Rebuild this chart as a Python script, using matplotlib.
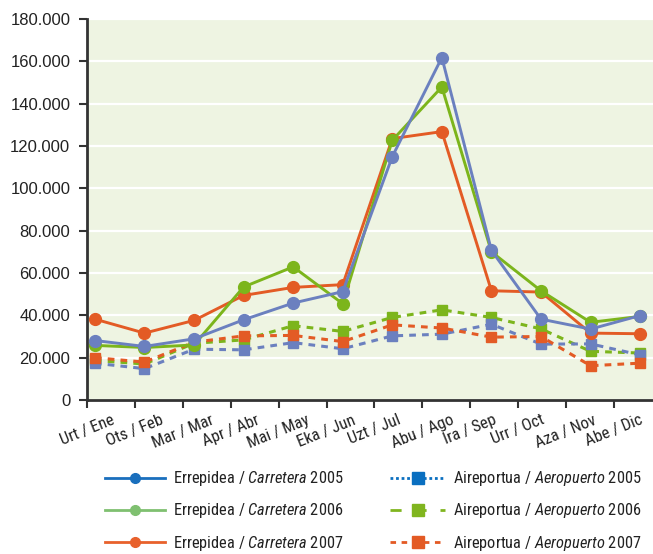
import matplotlib
matplotlib.use("Agg")
import matplotlib.pyplot as plt
from matplotlib.lines import Line2D
from matplotlib.ticker import FuncFormatter
from matplotlib import font_manager
import numpy as np

months = ["Urt / Ene", "Ots / Feb", "Mar / Mar", "Apr / Abr", "Mai / May", "Eka / Jun",
          "Uzt / Jul", "Abu / Ago", "Ira / Sep", "Urr / Oct", "Aza / Nov", "Abe / Dic"]

carretera_2005 = [28100, 25300, 28900, 37900, 45800, 51200, 115000, 161800, 70700, 38200, 33500, 39900]
carretera_2006 = [25800, 24800, 26000, 53400, 62900, 45500, 122700, 147900, 70000, 51600, 36700, 39500]
carretera_2007 = [38200, 31600, 37600, 49400, 53200, 54500, 123500, 126800, 51600, 51000, 31600, 31300]
aeropuerto_2005 = [17400, 14800, 24000, 23700, 27100, 24200, 30300, 31100, 35800, 26400, 26500, 21300]
aeropuerto_2006 = [18700, 17000, 26800, 28400, 35100, 32400, 39000, 42600, 39000, 33600, 23000, 22200]
aeropuerto_2007 = [20000, 17900, 27300, 30300, 30500, 27600, 35500, 34000, 29700, 30000, 16200, 17400]

yticks = [0, 20000, 40000, 60000, 80000, 100000, 120000, 140000, 160000, 180000]

installed = {f.name for f in font_manager.fontManager.ttflist}
cands = ["Liberation Sans Narrow", "Roboto Condensed", "Open Sans Condensed", "Noto Sans Condensed", "Roboto"]
narrow = next((c for c in cands if c in installed), "DejaVu Sans")
NARROW = [narrow, "DejaVu Sans"]
plt.rcParams["mathtext.fontset"] = "custom"
plt.rcParams["mathtext.rm"] = narrow
plt.rcParams["mathtext.it"] = narrow + ":italic"

blue = "#6b80bf"
green = "#7cb51c"
orange = "#e35b25"

fig = plt.figure(figsize=(6.53, 5.54), dpi=100)
ax = fig.add_axes([87/653, 1-400/554, 1-87/653, (400-19)/554])
ax.set_facecolor("#eef4e2")

x = np.arange(len(months))

ax.plot(x, aeropuerto_2006, color=green, lw=2.2, dashes=(2.2, 2.0), marker="s", ms=7, zorder=3)
ax.plot(x, aeropuerto_2005, color=blue, lw=2.2, dashes=(2.2, 2.0), marker="s", ms=7, zorder=3)
ax.plot(x, aeropuerto_2007, color=orange, lw=2.2, dashes=(2.2, 2.0), marker="s", ms=7, zorder=3)
ax.plot(x, carretera_2007, color=orange, lw=2.1, marker="o", ms=8.5, zorder=4)
ax.plot(x, carretera_2006, color=green, lw=2.1, marker="o", ms=8.5, zorder=4)
ax.plot(x, carretera_2005, color=blue, lw=2.1, marker="o", ms=8.5, zorder=4)

ax.set_ylim(0, 180000)
ax.set_xlim(-0.16, 11.26)
ax.set_yticks(yticks)
ax.yaxis.set_major_formatter(FuncFormatter(lambda v, p: f"{int(v):,}".replace(",", ".")))
ax.grid(axis="y", color="white", lw=1.6)
ax.set_axisbelow(True)

tick_pos = [-0.16 + 0.9667 * k for k in range(len(months))]
ax.set_xticks(tick_pos)
ax.set_xticklabels(months, rotation=22, ha="center", family=NARROW, fontsize=12, color="#222222")
ax.tick_params(axis="x", length=6, width=1.5, color="#333333", pad=3)
ax.tick_params(axis="y", length=6, width=1.5, color="#333333", pad=6)
for lab in ax.get_yticklabels():
    lab.set_family(["Liberation Sans", "DejaVu Sans"])
    lab.set_fontsize(12)
    lab.set_color("#222222")

for s in ["top", "right"]:
    ax.spines[s].set_visible(False)
for s in ["left", "bottom"]:
    ax.spines[s].set_color("#333333")
    ax.spines[s].set_linewidth(2)

h1 = [
    Line2D([], [], color="#1a6fbd", lw=2, marker="o", ms=7),
    Line2D([], [], color="#7fc070", lw=2, marker="o", ms=7),
    Line2D([], [], color="#e8612c", lw=2, marker="o", ms=7),
]
l1 = [r"Errepidea / $\mathit{Carretera}$ 2005",
      r"Errepidea / $\mathit{Carretera}$ 2006",
      r"Errepidea / $\mathit{Carretera}$ 2007"]
h2 = [
    Line2D([], [], color="#0a6fc0", lw=2, dashes=(1, 1), marker="s", ms=8),
    Line2D([], [], color="#80b51f", lw=2, dashes=(4, 5), marker="s", ms=8),
    Line2D([], [], color="#e35a24", lw=2, dashes=(2, 2), marker="s", ms=8),
]
l2 = [r"Aireportua / $\mathit{Aeropuerto}$ 2005",
      r"Aireportua / $\mathit{Aeropuerto}$ 2006",
      r"Aireportua / $\mathit{Aeropuerto}$ 2007"]

fs = 11.8
common = dict(frameon=False, loc="center left", borderpad=0, borderaxespad=0,
              handletextpad=8 * 0.72 / fs, labelspacing=0.8,
              prop={"family": NARROW, "size": fs})
leg1 = fig.legend(h1, l1, bbox_to_anchor=(105/653, 1-511/554), handlelength=60 * 0.72 / fs, **common)
leg2 = fig.legend(h2, l2, bbox_to_anchor=(390/653, 1-511/554), handlelength=55 * 0.72 / fs, **common)
for leg in (leg1, leg2):
    for t in leg.get_texts():
        t.set_color("#222222")

fig.savefig("out.png", dpi=100)
